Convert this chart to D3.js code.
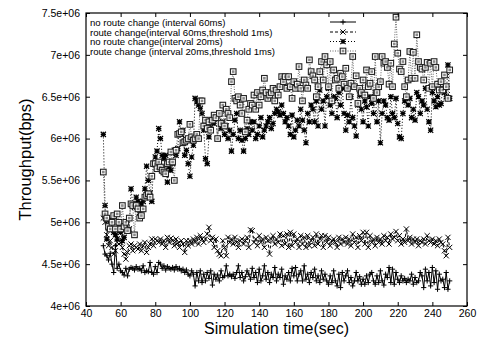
<!DOCTYPE html>
<html><head><meta charset="utf-8">
<script src="https://cdn.jsdelivr.net/npm/d3@7"></script>
<style>
body{margin:0;background:#fff;}
svg{display:block;font-family:"Liberation Sans",Arial,sans-serif;}
</style></head>
<body><svg id="c" width="480" height="343"></svg>
<script>
// time axis: one sample per second, 50..250
const startTime = 50;
const seriesNames = [
  "no route change (interval 60ms)",
  "route change(interval 60ms,threshold 1ms)",
  "no route change(interval 20ms)",
  "route change (interval 20ms,threshold 1ms)"
];
// throughput values in units of 1e6 bps
const noRoute60 = [
4.72,4.62,4.60,4.55,4.63,4.50,4.40,4.72,4.45,4.50,
4.42,4.40,4.37,4.45,4.36,4.44,4.46,4.45,4.43,4.47,
4.44,4.45,4.42,4.48,4.40,4.42,4.41,4.52,4.40,4.38,
4.47,4.40,4.52,4.50,4.45,4.48,4.43,4.47,4.45,4.44,
4.46,4.43,4.47,4.44,4.45,4.42,4.44,4.40,4.43,4.38,
4.36,4.42,4.38,4.24,4.40,4.30,4.42,4.28,4.38,4.30,
4.40,4.33,4.42,4.25,4.38,4.32,4.37,4.30,4.42,4.34,
4.36,4.48,4.36,4.38,4.35,4.38,4.33,4.40,4.48,4.34,
4.40,4.30,4.35,4.42,4.38,4.32,4.45,4.34,4.40,4.28,
4.44,4.30,4.36,4.48,4.32,4.40,4.28,4.38,4.34,4.46,
4.30,4.38,4.34,4.44,4.26,4.36,4.32,4.40,4.30,4.45,
4.36,4.46,4.30,4.38,4.42,4.30,4.48,4.32,4.38,4.28,
4.40,4.34,4.44,4.30,4.36,4.28,4.42,4.32,4.38,4.30,
4.26,4.36,4.28,4.42,4.30,4.24,4.38,4.22,4.40,4.30,
4.36,4.42,4.28,4.34,4.24,4.30,4.40,4.30,4.35,4.26,
4.32,4.26,4.36,4.28,4.38,4.40,4.30,4.26,4.36,4.28,
4.42,4.30,4.25,4.38,4.34,4.46,4.28,4.44,4.26,4.40,
4.32,4.28,4.36,4.30,4.33,4.28,4.32,4.30,4.38,4.26,
4.34,4.28,4.30,4.40,4.36,4.22,4.44,4.30,4.40,4.24,
4.46,4.28,4.42,4.20,4.38,4.30,4.32,4.22,4.40,4.20,
4.30];
const route60 = [
5.05,5.00,4.85,4.72,4.78,4.70,4.62,4.66,4.76,4.74,
4.76,4.70,4.62,4.56,4.64,4.72,4.74,4.66,4.72,4.70,
4.68,4.74,4.66,4.72,4.76,4.64,4.70,4.74,4.80,4.72,
4.80,4.78,4.76,4.80,4.74,4.78,4.70,4.82,4.76,4.81,
4.78,4.72,4.80,4.75,4.70,4.78,4.74,4.64,4.78,4.72,
4.78,4.74,4.80,4.76,4.82,4.74,4.84,4.80,4.76,4.80,
4.86,4.94,4.78,4.82,4.70,4.80,4.66,4.62,4.60,4.78,
4.70,4.60,4.82,4.76,4.80,4.74,4.82,4.76,4.70,4.78,
4.80,4.74,4.78,4.82,4.70,4.91,4.90,4.76,4.80,4.72,
4.84,4.76,4.80,4.70,4.82,4.78,4.62,4.80,4.84,4.74,
4.80,4.76,4.86,4.72,4.84,4.74,4.86,4.70,4.88,4.72,
4.86,4.76,4.80,4.70,4.84,4.74,4.82,4.70,4.84,4.72,
4.78,4.82,4.72,4.86,4.74,4.80,4.84,4.70,4.84,4.76,
4.82,4.72,4.78,4.80,4.76,4.70,4.82,4.74,4.80,4.76,
4.82,4.74,4.80,4.72,4.86,4.76,4.82,4.70,4.84,4.78,
4.88,4.74,4.88,4.70,4.84,4.76,4.80,4.72,4.82,4.76,
4.80,4.74,4.84,4.78,4.82,4.74,4.86,4.80,4.82,4.89,
4.78,4.84,4.74,4.80,4.76,4.92,4.78,4.82,4.74,4.80,
4.76,4.80,4.72,4.78,4.76,4.80,4.74,4.84,4.78,4.76,
4.80,4.74,4.78,4.72,4.80,4.76,4.74,4.66,4.60,4.82,
4.70];
const noRoute20 = [
6.05,5.20,4.80,5.02,4.95,5.00,4.88,4.85,4.80,4.95,
4.88,4.78,4.82,4.95,4.90,4.92,5.40,5.22,5.18,5.30,
5.25,5.12,5.22,5.25,5.40,5.67,5.50,5.35,5.25,5.70,
5.78,5.85,6.12,6.00,5.80,5.76,5.80,5.48,5.66,5.62,
5.70,5.86,5.80,5.88,6.20,6.05,6.10,5.80,5.86,5.70,
5.55,5.78,5.92,6.48,6.44,6.40,6.36,6.30,6.10,5.76,
5.70,6.02,6.15,6.22,6.18,6.24,6.00,6.30,6.12,6.20,
6.05,6.15,6.00,6.10,5.85,6.05,6.22,6.30,6.00,6.10,
5.98,5.85,6.00,6.12,6.05,6.20,6.10,6.20,6.00,6.05,
6.15,6.25,6.02,6.10,6.15,6.20,6.25,6.12,6.18,6.30,
6.35,6.32,6.28,6.40,6.30,6.20,6.25,6.15,6.05,6.28,
6.02,6.10,6.22,6.15,6.35,6.22,6.10,5.95,6.30,6.20,
6.40,6.35,6.20,6.45,6.15,6.58,6.35,6.45,6.15,6.50,
6.60,6.40,6.30,6.50,6.48,6.25,6.55,6.40,6.60,6.30,
6.10,6.28,6.20,6.50,6.25,6.15,6.03,6.40,6.52,6.35,
6.20,6.45,6.38,6.15,6.50,6.42,6.30,6.55,6.20,6.45,
5.95,6.30,6.45,6.40,6.25,6.22,6.50,6.30,6.25,6.48,
6.18,6.02,6.00,6.30,6.45,6.50,6.40,6.48,6.25,6.35,
6.22,6.55,6.50,6.30,6.45,6.40,6.60,6.35,6.20,6.10,
6.55,6.45,6.38,6.50,6.40,6.42,6.60,6.55,6.50,6.88,
6.48];
const route20 = [
5.60,5.10,5.05,4.95,4.92,5.00,5.08,4.92,5.10,5.00,
4.92,5.20,4.95,5.00,4.90,5.05,5.22,5.20,4.85,5.20,
5.16,5.05,5.08,5.16,5.30,5.32,5.34,5.30,5.55,5.70,
5.70,5.64,5.72,5.66,5.62,5.60,5.58,5.70,5.72,5.84,
5.72,5.50,5.86,6.05,6.06,6.08,5.95,5.96,5.98,6.00,
6.17,6.02,5.98,6.00,6.05,6.00,6.45,6.45,6.15,6.22,
6.12,6.20,6.10,6.22,6.28,6.25,6.00,6.30,6.18,6.40,
6.15,6.35,6.30,6.25,6.68,6.80,6.48,6.45,6.50,6.40,
6.30,6.48,6.08,6.22,6.35,6.42,6.40,6.52,6.35,6.55,
6.40,6.50,6.58,6.72,6.55,6.48,6.52,6.55,6.60,6.45,
6.58,6.52,6.62,6.74,6.68,6.74,6.60,6.74,6.62,6.48,
6.68,6.60,6.65,6.86,6.60,6.45,6.70,6.64,6.60,6.94,
6.80,6.75,6.70,6.50,6.62,6.80,6.92,6.70,6.98,6.88,
6.62,6.92,6.45,6.82,6.70,6.72,6.60,6.78,6.74,6.65,
6.84,6.60,6.50,6.66,6.98,6.62,6.75,6.42,6.60,6.55,
6.70,6.52,6.82,6.62,6.66,6.80,6.48,6.98,6.55,6.62,
6.68,6.98,6.90,6.92,6.85,6.65,6.90,6.62,7.13,7.45,
7.02,6.83,6.80,6.92,6.62,6.50,6.70,7.04,6.72,7.03,
6.72,7.24,6.92,6.85,6.83,6.70,6.85,6.91,6.60,6.90,
6.62,6.92,6.85,6.65,6.58,6.68,6.58,6.76,6.62,6.48,
6.82];
const xTicks = [40,60,80,100,120,140,160,180,200,220,240,260];
const yTicks = [4,4.5,5,5.5,6,6.5,7,7.5];
const yTickLabels = ["4e+06","4.5e+06","5e+06","5.5e+06","6e+06","6.5e+06","7e+06","7.5e+06"];

const svg = d3.select("#c");
const L=86,R=467,T=13,B=306;
const x = d3.scaleLinear().domain([40,260]).range([L,R]);
const y = d3.scaleLinear().domain([4,7.5]).range([B,T]);

const styles = [
  {data:noRoute60, stroke:"#000", dash:null, marker:"plus", mcol:"#000"},
  {data:route60, stroke:"#000", dash:"3,2", marker:"cross", mcol:"#000"},
  {data:noRoute20, stroke:"#000", dash:"1,2", marker:"star", mcol:"#000"},
  {data:route20, stroke:"#666", dash:"1,1.5", marker:"square", mcol:"#222"}
];

function drawMarker(g, type, cx, cy, col){
  const s=2.6;
  if(type==="plus"){
    g.append("path").attr("d",`M${cx-s},${cy}H${cx+s}M${cx},${cy-s}V${cy+s}`).attr("stroke",col).attr("stroke-width",1).attr("fill","none");
  } else if(type==="cross"){
    g.append("path").attr("d",`M${cx-s},${cy-s}L${cx+s},${cy+s}M${cx-s},${cy+s}L${cx+s},${cy-s}`).attr("stroke",col).attr("stroke-width",1).attr("fill","none");
  } else if(type==="star"){
    g.append("path").attr("d",`M${cx-s},${cy}H${cx+s}M${cx},${cy-s}V${cy+s}M${cx-s},${cy-s}L${cx+s},${cy+s}M${cx-s},${cy+s}L${cx+s},${cy-s}`).attr("stroke",col).attr("stroke-width",1.2).attr("fill","none");
  } else {
    g.append("rect").attr("x",cx-2.8).attr("y",cy-2.8).attr("width",5.6).attr("height",5.6).attr("stroke",col).attr("stroke-width",1.1).attr("fill","#fff");
    g.append("rect").attr("x",cx-1.3).attr("y",cy-1.3).attr("width",2.6).attr("height",2.6).attr("fill","#8a8a8a");
  }
}

const line = d3.line().x((d,i)=>x(startTime+i)).y(d=>y(d));
const plot = svg.append("g");
styles.forEach(st=>{
  plot.append("path").datum(st.data).attr("d",line).attr("fill","none")
    .attr("stroke",st.stroke).attr("stroke-width",1).attr("stroke-dasharray",st.dash);
  const mg = plot.append("g");
  st.data.forEach((v,i)=>drawMarker(mg, st.marker, x(startTime+i), y(v), st.mcol));
});

// axes
const fmt = d => yTickLabels[yTicks.indexOf(d)];
const ax = svg.append("g");
ax.append("g").attr("transform",`translate(0,${B})`).call(d3.axisBottom(x).tickValues(xTicks).tickSize(-4).tickPadding(4));
ax.append("g").attr("transform",`translate(0,${T})`).call(d3.axisTop(x).tickValues(xTicks).tickSize(-4).tickFormat(""));
ax.append("g").attr("transform",`translate(${L},0)`).call(d3.axisLeft(y).tickValues(yTicks).tickSize(-4).tickPadding(6).tickFormat(fmt));
ax.append("g").attr("transform",`translate(${R},0)`).call(d3.axisRight(y).tickValues(yTicks).tickSize(-4).tickFormat(""));
ax.selectAll(".domain").remove();
ax.selectAll("text").attr("font-family","Liberation Sans, Arial, sans-serif").attr("fill","#000").attr("font-size",10.5);
svg.append("rect").attr("x",L).attr("y",T).attr("width",R-L).attr("height",B-T).attr("fill","none").attr("stroke","#000").attr("stroke-width",1.2);

// titles
svg.append("text").attr("x",(L+R)/2).attr("y",334).attr("text-anchor","middle").attr("font-size",16).text("Simulation time(sec)");
svg.append("text").attr("transform",`translate(31,${(T+B)/2}) rotate(-90)`).attr("text-anchor","middle").attr("font-size",16.5).text("Throughput(bps)");

// legend
const lg = svg.append("g");
const legY = [22,32,41.5,51];
styles.forEach((st,i)=>{
  lg.append("text").attr("x",90).attr("y",legY[i]+3.5).attr("font-size",9.6).text(seriesNames[i]);
  lg.append("line").attr("x1",330).attr("x2",356).attr("y1",legY[i]).attr("y2",legY[i])
    .attr("stroke",st.stroke).attr("stroke-width",1).attr("stroke-dasharray",st.dash);
  drawMarker(lg, st.marker, 343, legY[i], st.mcol);
});
</script></body></html>
